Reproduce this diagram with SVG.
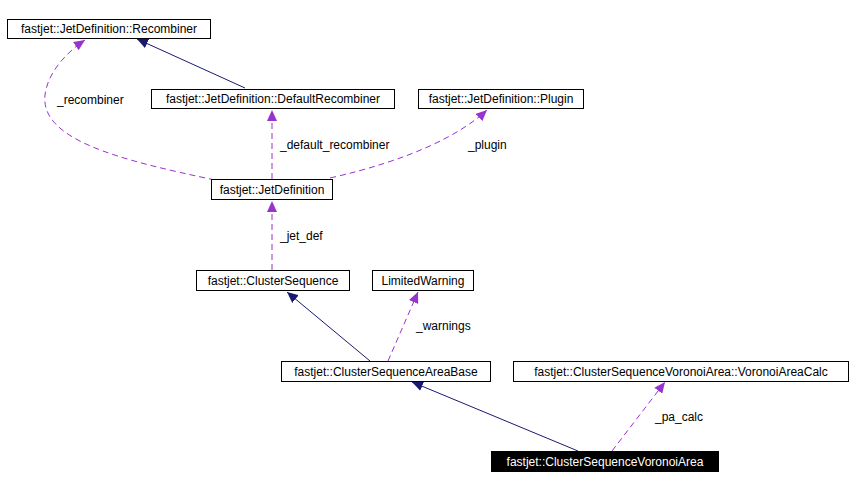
<svg xmlns="http://www.w3.org/2000/svg" width="851" height="489" viewBox="0 0 851 489">
<style>
.n rect{fill:#fff;stroke:#000;stroke-width:1}
text{font-family:"Liberation Sans",Arial,sans-serif;font-size:12px;fill:#000}
.n text{text-anchor:middle}
.s{fill:none;stroke:#191970;stroke-width:1}
.d{fill:none;stroke:#9a32cd;stroke-width:1;stroke-dasharray:6,4}
</style>
<defs>
<marker id="an" markerWidth="12" markerHeight="10" refX="11" refY="5" orient="auto" markerUnits="userSpaceOnUse"><path d="M0,0 L11,5 L0,10 Z" fill="#191970"/></marker>
<marker id="ap" markerWidth="12" markerHeight="10" refX="11" refY="5" orient="auto" markerUnits="userSpaceOnUse"><path d="M0,0 L11,5 L0,10 Z" fill="#9a32cd"/></marker>
</defs>
<rect width="851" height="489" fill="#fff"/>
<g id="connectors">
<path class="s" d="M245,88 L137,39" marker-end="url(#an)"/>
<path class="d" d="M215,180 C120,160 40,140 45,95 C48,70 70,50 85,40" marker-end="url(#ap)"/>
<path class="d" d="M272,179 L272,110" marker-end="url(#ap)"/>
<path class="d" d="M330,178 C410,160 460,135 487,110" marker-end="url(#ap)"/>
<path class="d" d="M272,270 L272,201" marker-end="url(#ap)"/>
<path class="s" d="M370,361 L287,292" marker-end="url(#an)"/>
<path class="d" d="M388,361 L418,292" marker-end="url(#ap)"/>
<path class="s" d="M578,451 L412,382" marker-end="url(#an)"/>
<path class="d" d="M612,451 L665,382" marker-end="url(#ap)"/>
<text x="57" y="104">_recombiner</text>
<text x="280" y="149">_default_recombiner</text>
<text x="468" y="149">_plugin</text>
<text x="280" y="240">_jet_def</text>
<text x="416" y="330">_warnings</text>
<text x="655" y="421">_pa_calc</text>
</g>
<g id="n1" class="n"><rect x="7.5" y="19.5" width="203" height="19"/><text x="109" y="33">fastjet::JetDefinition::Recombiner</text></g>
<g id="n2" class="n"><rect x="151.5" y="89.5" width="243" height="19"/><text x="273" y="103">fastjet::JetDefinition::DefaultRecombiner</text></g>
<g id="n3" class="n"><rect x="418.5" y="89.5" width="165" height="19"/><text x="501" y="103">fastjet::JetDefinition::Plugin</text></g>
<g id="n4" class="n"><rect x="211.5" y="179.5" width="121" height="20"/><text x="272" y="194">fastjet::JetDefinition</text></g>
<g id="n5" class="n"><rect x="196.5" y="270.5" width="153" height="20"/><text x="273" y="285">fastjet::ClusterSequence</text></g>
<g id="n6" class="n"><rect x="372.5" y="270.5" width="101" height="20"/><text x="423" y="285">LimitedWarning</text></g>
<g id="n7" class="n"><rect x="281.5" y="361.5" width="209" height="20"/><text x="386" y="376">fastjet::ClusterSequenceAreaBase</text></g>
<g id="n8" class="n"><rect x="513.5" y="361.5" width="335" height="20"/><text x="681" y="376">fastjet::ClusterSequenceVoronoiArea::VoronoiAreaCalc</text></g>
<g id="n9"><rect x="491.5" y="451.5" width="227" height="20" fill="#000" stroke="#000"/><text x="605" y="466" text-anchor="middle" style="fill:#fff">fastjet::ClusterSequenceVoronoiArea</text></g>
</svg>
